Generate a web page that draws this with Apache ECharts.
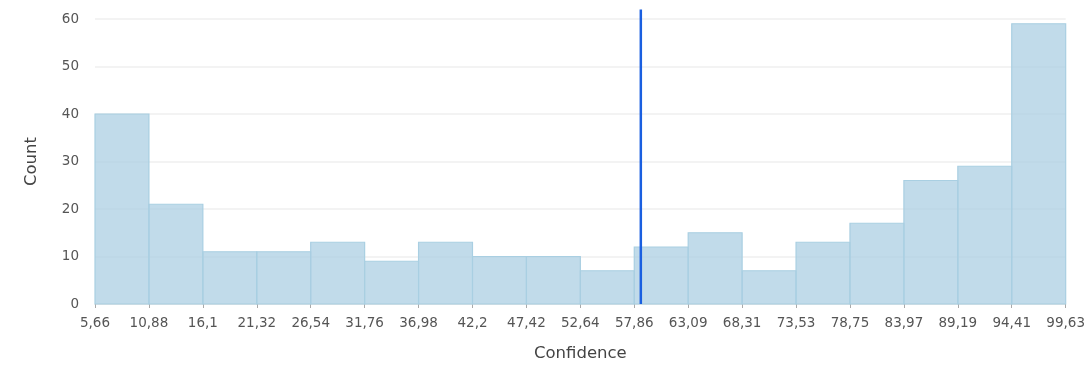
<!DOCTYPE html>
<html>
<head>
<meta charset="utf-8">
<script src="https://cdn.jsdelivr.net/npm/echarts@6/dist/echarts.min.js"></script>
<style>html,body{margin:0;padding:0;background:#fff}#c{width:1088px;height:367px}</style>
</head>
<body>
<div id="c"></div>
<script>
// Bin edges (tick labels) and counts
const edgeLabels = ["5,66","10,88","16,1","21,32","26,54","31,76","36,98","42,2","47,42","52,64","57,86","63,09","68,31","73,53","78,75","83,97","89,19","94,41","99,63"];
const edges = [5.66,10.88,16.1,21.32,26.54,31.76,36.98,42.2,47.42,52.64,57.86,63.09,68.31,73.53,78.75,83.97,89.19,94.41,99.63];
const counts = [40,21,11,11,13,9,13,10,10,7,12,15,7,13,17,26,29,59];
const threshold = 58.5;
const lineTop = 62;

const binW = (edges[edges.length-1]-edges[0])/(edges.length-1);
const tPos = (threshold-edges[0])/binW;
const FONT = 'DejaVu Sans';

const chart = echarts.init(document.getElementById('c'));
chart.setOption({
  animation:false,
  textStyle:{fontFamily:FONT},
  grid:{left:95,right:19,top:19,bottom:60},
  xAxis:{
    type:'value',min:0,max:edges.length-1,interval:1,
    name:'Confidence',nameLocation:'middle',nameGap:41,
    nameTextStyle:{fontFamily:FONT,fontSize:16.5,color:'#444'},
    axisLine:{show:true,lineStyle:{color:'#e6e6e6'}},
    axisTick:{show:true,length:4,lineStyle:{color:'#aaa'}},
    splitLine:{show:false},
    axisLabel:{fontFamily:FONT,fontSize:13.5,color:'#555',margin:12,
      formatter:v=>edgeLabels[Math.round(v)]}
  },
  yAxis:{
    type:'value',min:0,max:60,interval:10,
    name:'Count',nameLocation:'middle',nameGap:55,
    nameTextStyle:{fontFamily:FONT,fontSize:16.5,color:'#444'},
    axisLine:{show:false},axisTick:{show:false},
    splitLine:{lineStyle:{color:'#efefef',width:1.5}},
    axisLabel:{fontFamily:FONT,fontSize:13.5,color:'#555',margin:16}
  },
  series:[{
    type:'custom',
    data:counts.map((c,i)=>[i,i+1,c]),
    renderItem:function(params,api){
      const p0=api.coord([api.value(0),0]);
      const p1=api.coord([api.value(1),api.value(2)]);
      return {type:'rect',shape:{x:p0[0],y:p1[1],width:p1[0]-p0[0],height:p0[1]-p1[1]},
        style:{fill:'rgba(172,207,227,0.75)',stroke:'#a9cfe2',lineWidth:1.2}};
    },
    encode:{x:[0,1],y:2}
  },{
    type:'line',
    data:[[tPos,0],[tPos,lineTop]],
    clip:false,symbol:'none',
    lineStyle:{color:'#1a5fe0',width:2.5},
    z:5
  }]
});
</script>
</body>
</html>
